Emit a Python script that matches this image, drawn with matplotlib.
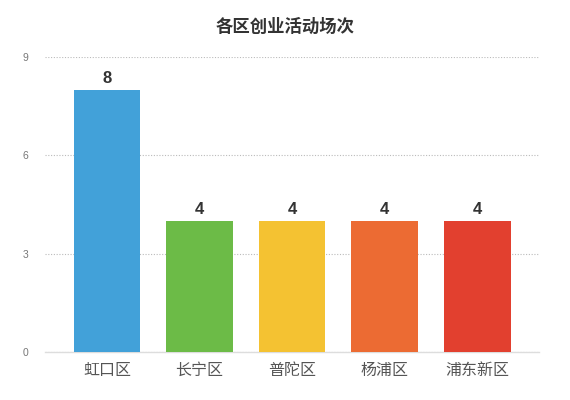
import matplotlib
matplotlib.use("Agg")
import matplotlib.pyplot as plt

plt.rcParams['font.family'] = ['Noto Sans CJK SC', 'DejaVu Sans']

districts = ['虹口区', '长宁区', '普陀区', '杨浦区', '浦东新区']
counts = [8, 4, 4, 4, 4]
colors = ['#42A1D9', '#6CBB47', '#F4C232', '#EC6B33', '#E2402F']
yticks = [0, 3, 6, 9]

fig = plt.figure(figsize=(5.7, 4.0), dpi=100)
ax = fig.add_axes([0.079, 0.12, 0.867, 0.7375])

x = range(len(districts))
bars = ax.bar(x, counts, width=0.72, color=colors, zorder=3)

for b, v in zip(bars, counts):
    ax.text(b.get_x() + b.get_width() / 2, v + 0.12, str(v),
            ha='center', va='bottom', fontsize=12, fontweight='bold',
            color='#333333', family='Liberation Sans')

ax.set_xlim(-0.67, len(districts) - 0.33)
ax.set_ylim(0, 9)
ax.set_yticks(yticks)
ax.set_yticklabels([str(t) for t in yticks], fontsize=7.5, color='#777777',
                   family='Liberation Sans')
ax.set_xticks(list(x))
ax.set_xticklabels(districts, fontsize=11.5, color='#555555')
ax.tick_params(axis='both', length=0)
ax.tick_params(axis='y', pad=12)
ax.tick_params(axis='x', pad=7)

ax.grid(axis='y', linestyle=(0, (1, 1.5)), color='#bbbbbb', linewidth=0.8, zorder=0)
for s in ['top', 'right', 'left']:
    ax.spines[s].set_visible(False)
ax.spines['bottom'].set_color('#dddddd')
ax.spines['bottom'].set_linewidth(1)

fig.text(0.5, 0.932, '各区创业活动场次', ha='center', va='center',
         fontsize=12.5, fontweight='bold', color='#333333')

fig.savefig('out.png', dpi=100)
